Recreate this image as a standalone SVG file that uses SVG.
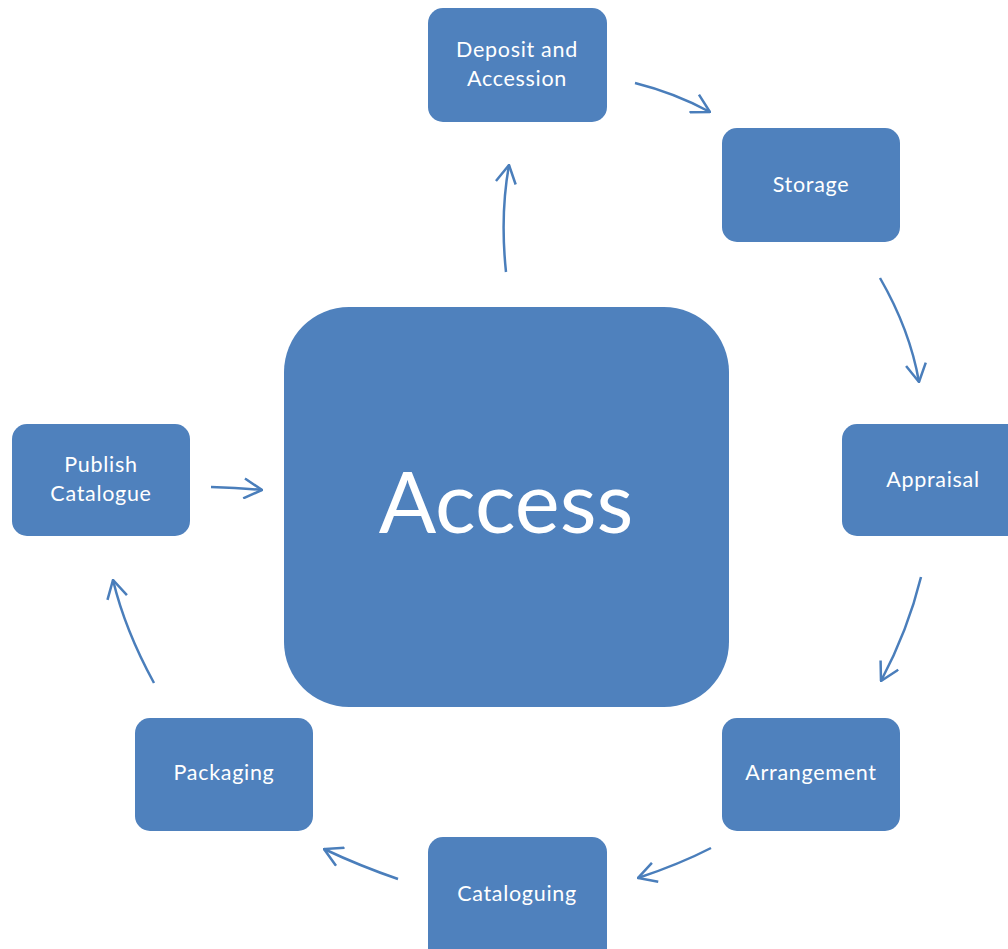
<svg xmlns="http://www.w3.org/2000/svg" width="1008" height="949" viewBox="0 0 1008 949">
<style>
.box{fill:#4F81BD;}
.lbl{fill:#FFFFFF;font-family:Lato,"Open Sans","Liberation Sans",sans-serif;font-size:21.5px;letter-spacing:0.7px;text-anchor:middle;}
.big{font-size:85px;letter-spacing:0;}
.conn{fill:none;stroke:#4A7EBB;stroke-width:2.5;marker-end:url(#ah);}
</style>
<defs>
<marker id="ah" viewBox="0 0 20 22" markerWidth="20" markerHeight="22" refX="19" refY="11" orient="auto" markerUnits="userSpaceOnUse">
<path d="M1,1 L19,11 L1,21" fill="none" stroke="#4A7EBB" stroke-width="2.5"/>
</marker>
</defs>
<rect width="1008" height="949" fill="#FFFFFF"/>
<g id="connectors">
<path class="conn" d="M506,272 Q500,215 509,165"/>
<path class="conn" d="M635,83 Q675,93 710,112"/>
<path class="conn" d="M880,278 Q910,330 919,382"/>
<path class="conn" d="M921,577 Q908,630 881,681"/>
<path class="conn" d="M711,848 Q680,864 638,878"/>
<path class="conn" d="M398,879 Q360,866 324,849"/>
<path class="conn" d="M154,683 Q125,630 113,580"/>
<path class="conn" d="M211,487 Q240,488 262,490"/>
</g>
<g id="access">
<rect class="box" x="284" y="307" width="445" height="400" rx="65"/>
<text class="lbl big" x="506" y="533">Access</text>
</g>
<g id="deposit">
<rect class="box" x="428" y="8" width="179" height="114" rx="15"/>
<text class="lbl" x="517" y="57">Deposit and</text>
<text class="lbl" x="517" y="86">Accession</text>
</g>
<g id="storage">
<rect class="box" x="722" y="128" width="178" height="114" rx="15"/>
<text class="lbl" x="811" y="192">Storage</text>
</g>
<g id="appraisal">
<rect class="box" x="842" y="424" width="190" height="112" rx="15"/>
<text class="lbl" x="933" y="487">Appraisal</text>
</g>
<g id="arrangement">
<rect class="box" x="722" y="718" width="178" height="113" rx="15"/>
<text class="lbl" x="811" y="780">Arrangement</text>
</g>
<g id="cataloguing">
<rect class="box" x="428" y="837" width="179" height="130" rx="15"/>
<text class="lbl" x="517" y="901">Cataloguing</text>
</g>
<g id="packaging">
<rect class="box" x="135" y="718" width="178" height="113" rx="15"/>
<text class="lbl" x="224" y="780">Packaging</text>
</g>
<g id="publish">
<rect class="box" x="12" y="424" width="178" height="112" rx="15"/>
<text class="lbl" x="101" y="472">Publish</text>
<text class="lbl" x="101" y="501">Catalogue</text>
</g>
</svg>
